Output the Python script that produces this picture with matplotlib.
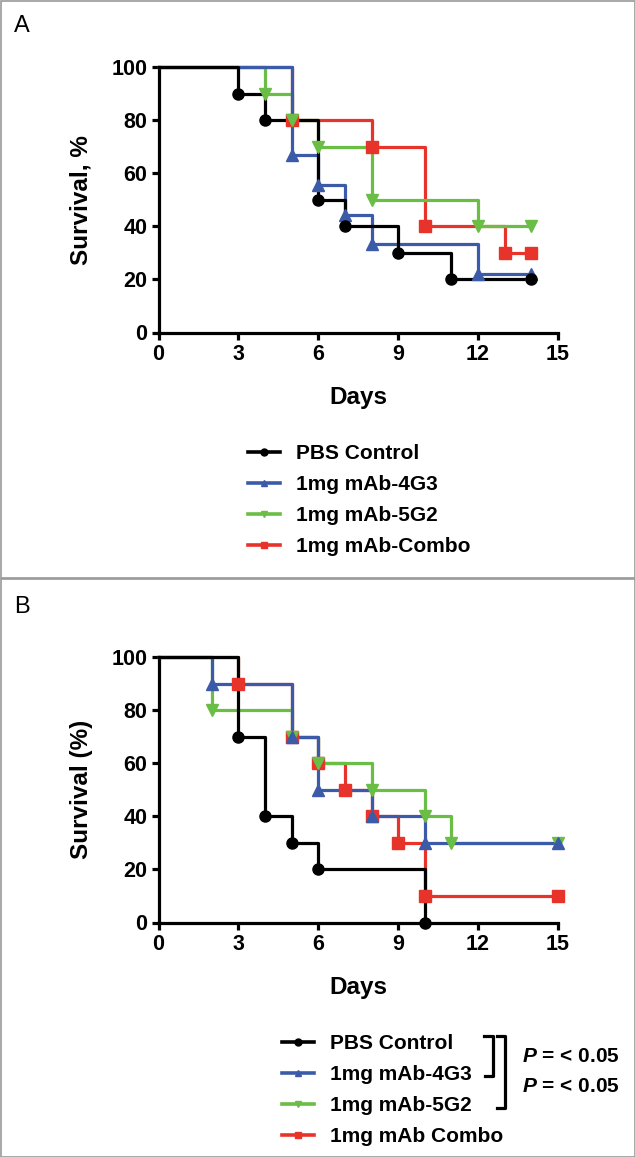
import numpy as np
import matplotlib.pyplot as plt
from matplotlib.lines import Line2D
from matplotlib.patches import Rectangle

plt.rcParams['font.family'] = ['Liberation Sans', 'DejaVu Sans']
plt.rcParams['font.weight'] = 'bold'
plt.rcParams['mathtext.fontset'] = 'custom'
plt.rcParams['mathtext.it'] = 'Liberation Sans:italic:bold'
plt.rcParams['mathtext.rm'] = 'Liberation Sans:bold'

labels_a = ['PBS Control', '1mg mAb-4G3', '1mg mAb-5G2', '1mg mAb-Combo']
labels_b = ['PBS Control', '1mg mAb-4G3', '1mg mAb-5G2', '1mg mAb Combo']

# panel A: days and survival (%) after each step
a_pbs_t = [0, 3, 4, 6, 7, 9, 11, 14]
a_pbs_s = [100, 90, 80, 50, 40, 30, 20, 20]
a_4g3_t = [0, 5, 6, 7, 8, 12, 14]
a_4g3_s = [100, 66.7, 55.6, 44.4, 33.3, 22.2, 22.2]
a_5g2_t = [0, 4, 5, 6, 8, 12, 14]
a_5g2_s = [100, 90, 80, 70, 50, 40, 40]
a_combo_t = [0, 5, 8, 10, 13, 14]
a_combo_s = [100, 80, 70, 40, 30, 30]

# panel B
b_pbs_t = [0, 3, 4, 5, 6, 10]
b_pbs_s = [100, 70, 40, 30, 20, 0]
b_4g3_t = [0, 2, 5, 6, 8, 10, 15]
b_4g3_s = [100, 90, 70, 50, 40, 30, 30]
b_5g2_t = [0, 2, 5, 6, 8, 10, 11, 15]
b_5g2_s = [100, 80, 70, 60, 50, 40, 30, 30]
b_combo_t = [0, 3, 5, 6, 7, 8, 9, 10, 15]
b_combo_s = [100, 90, 70, 60, 50, 40, 30, 10, 10]

p_text = r'$P$ = < 0.05'

colors = ['black', '#3b5ba9', '#6abd45', '#e8332a']
markers = ['o', '^', 'v', 's']
zorders = [5, 4, 3, 2]

W, H = 635, 1157
fig = plt.figure(figsize=(W / 100, H / 100), dpi=100)


def fx(x):
    return x / W


def fy(y):
    return 1 - y / H


def panel(top, curves, labels, ylabel, leg_x, leg_y):
    ax = fig.add_axes([fx(158.5), fy(top + 265.5), fx(558) - fx(158.5), 265.5 / H])
    handles = []
    for (t, s), c, m, z, lab in zip(curves, colors, markers, zorders, labels):
        ax.plot(t, s, drawstyle='steps-post', color=c, lw=2.3, zorder=z, clip_on=False)
        ax.plot(t[1:], s[1:], ls='none', marker=m, color=c, ms=8, zorder=z + 10, clip_on=False)
        handles.append(Line2D([], [], color=c, lw=2.6, marker=m, ms=5, label=lab))
    ax.set_xlim(0, 15)
    ax.set_ylim(0, 100)
    ax.set_xticks(range(0, 16, 3))
    ax.set_yticks(range(0, 101, 20))
    for side in ['top', 'right']:
        ax.spines[side].set_visible(False)
    for side in ['left', 'bottom']:
        ax.spines[side].set_linewidth(2.3)
    ax.tick_params(direction='out', length=5, width=2.3, labelsize=15.5, pad=3)
    ax.set_xlabel('Days', fontsize=17.5, fontweight='bold', va='center')
    ax.xaxis.set_label_coords(0.5, -65 / 265.5)
    ax.set_ylabel(ylabel, fontsize=17.5, fontweight='bold')
    ax.yaxis.set_label_coords(-65.5 / 399.5, 0.5)
    ax.legend(handles=handles, loc='upper left', bbox_to_anchor=(fx(leg_x), fy(leg_y)),
              bbox_transform=fig.transFigure, frameon=False, fontsize=15,
              handlelength=1.55, handletextpad=0.75, labelspacing=0.58,
              borderpad=0, borderaxespad=0)
    return ax


panel(67, [(a_pbs_t, a_pbs_s), (a_4g3_t, a_4g3_s), (a_5g2_t, a_5g2_s), (a_combo_t, a_combo_s)],
      labels_a, 'Survival, %', 248, 444)
panel(657, [(b_pbs_t, b_pbs_s), (b_4g3_t, b_4g3_s), (b_5g2_t, b_5g2_s), (b_combo_t, b_combo_s)],
      labels_b, 'Survival (%)', 282, 1034)

# panel letters and frames
fig.text(fx(14), fy(26), 'A', fontsize=17, fontweight='normal', va='center')
fig.text(fx(14), fy(607), 'B', fontsize=17, fontweight='normal', va='center')
fig.add_artist(Rectangle((fx(0.5), fy(577.5)), fx(634), 577 / H, transform=fig.transFigure,
                         fill=False, edgecolor='#999999', lw=1.2))
fig.add_artist(Rectangle((fx(0.5), fy(1156.5)), fx(634), 578 / H, transform=fig.transFigure,
                         fill=False, edgecolor='#999999', lw=1.2))

# significance brackets
for xs, ys in [([484, 493, 493, 485], [1036, 1036, 1076, 1076]),
               ([497, 505, 505, 497], [1036, 1036, 1108, 1108])]:
    fig.add_artist(Line2D([fx(x) for x in xs], [fy(y) for y in ys], transform=fig.transFigure,
                          color='black', lw=2.3))
fig.text(fx(522), fy(1057), p_text, fontsize=15, fontweight='bold', va='center')
fig.text(fx(522), fy(1087), p_text, fontsize=15, fontweight='bold', va='center')

fig.savefig('out.png', dpi=100)
